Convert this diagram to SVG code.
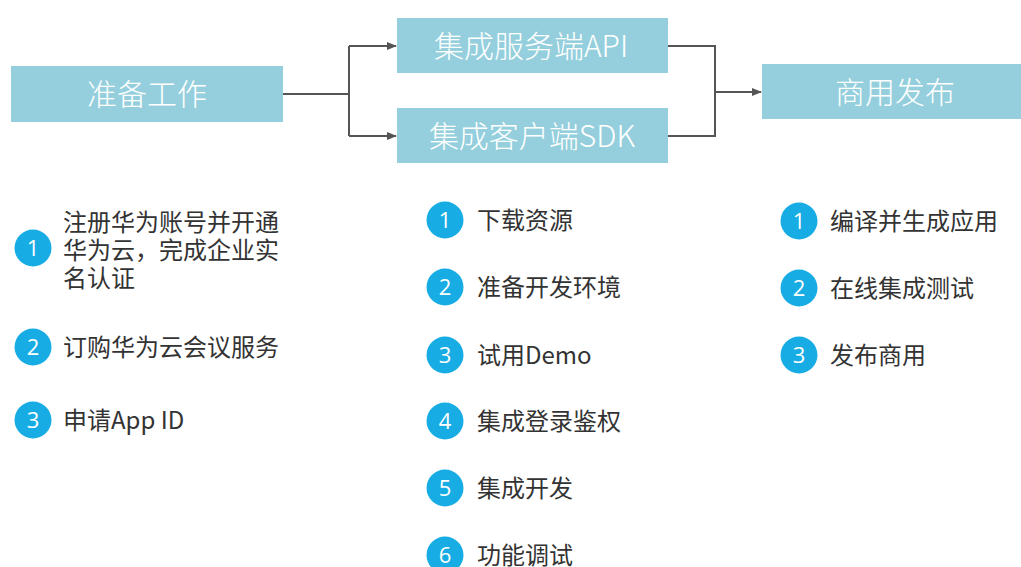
<svg xmlns="http://www.w3.org/2000/svg" width="1021" height="567" viewBox="0 0 1021 567">
<style>
.box{fill:#95cfdd}
.bt{font-family:"Noto Sans CJK SC","Liberation Sans",sans-serif;font-size:30px;fill:#fff;font-weight:300;text-anchor:middle}
.c{fill:#17ace3}
.n{font-family:"Open Sans","Liberation Sans",sans-serif;font-size:22px;fill:#fff;text-anchor:middle}
.t{font-family:"Noto Sans CJK SC","Liberation Sans",sans-serif;font-size:24px;fill:#333}
.ln{fill:none;stroke:#555;stroke-width:2}
</style>
<defs>
<marker id="ah" markerWidth="10" markerHeight="10" refX="9" refY="5" orient="auto" markerUnits="userSpaceOnUse">
<path d="M0,1 L10,5 L0,9 Z" fill="#555"/>
</marker>
</defs>
<rect width="1021" height="567" fill="#fff"/>
<g id="connectors">
<path class="ln" d="M283,94 H349"/>
<path class="ln" d="M349,46 V136"/>
<path class="ln" d="M349,46 H396" marker-end="url(#ah)"/>
<path class="ln" d="M349,136 H396" marker-end="url(#ah)"/>
<path class="ln" d="M668,46 H715 V136 H668"/>
<path class="ln" d="M715,92 H761" marker-end="url(#ah)"/>
</g>
<g id="node-prepare">
<rect class="box" x="11" y="66" width="272" height="56"/>
<text class="bt" x="147" y="105">准备工作</text>
</g>
<g id="node-api">
<rect class="box" x="397" y="18" width="271" height="55"/>
<text class="bt" x="531" y="56.5">集成服务端API</text>
</g>
<g id="node-sdk">
<rect class="box" x="397" y="108" width="271" height="55"/>
<text class="bt" x="532" y="146.5">集成客户端SDK</text>
</g>
<g id="node-release">
<rect class="box" x="762" y="64" width="259" height="55"/>
<text class="bt" x="895" y="102.5">商用发布</text>
</g>
<g id="list-prepare">
<circle class="c" cx="33" cy="248" r="18.5"/><text class="n" x="33" y="256">1</text>
<text class="t" x="63" y="230.5">注册华为账号并开通</text>
<text class="t" x="63" y="258.5">华为云，完成企业实</text>
<text class="t" x="63" y="286.5">名认证</text>
<circle class="c" cx="33" cy="347" r="18.5"/><text class="n" x="33" y="355">2</text>
<text class="t" x="63" y="355.5">订购华为云会议服务</text>
<circle class="c" cx="33" cy="420" r="18.5"/><text class="n" x="33" y="428">3</text>
<text class="t" x="63" y="428.5">申请App ID</text>
</g>
<g id="list-integrate">
<circle class="c" cx="445" cy="220" r="18.5"/><text class="n" x="445" y="228">1</text>
<text class="t" x="477" y="228.5">下载资源</text>
<circle class="c" cx="445" cy="287" r="18.5"/><text class="n" x="445" y="295">2</text>
<text class="t" x="477" y="295.5">准备开发环境</text>
<circle class="c" cx="445" cy="355" r="18.5"/><text class="n" x="445" y="363">3</text>
<text class="t" x="477" y="363.5">试用Demo</text>
<circle class="c" cx="445" cy="421" r="18.5"/><text class="n" x="445" y="429">4</text>
<text class="t" x="477" y="429.5">集成登录鉴权</text>
<circle class="c" cx="445" cy="488" r="18.5"/><text class="n" x="445" y="496">5</text>
<text class="t" x="477" y="496.5">集成开发</text>
<circle class="c" cx="445" cy="555" r="18.5"/><text class="n" x="445" y="563">6</text>
<text class="t" x="477" y="563.5">功能调试</text>
</g>
<g id="list-release">
<circle class="c" cx="799" cy="221" r="18.5"/><text class="n" x="799" y="229">1</text>
<text class="t" x="830" y="229.5">编译并生成应用</text>
<circle class="c" cx="799" cy="288" r="18.5"/><text class="n" x="799" y="296">2</text>
<text class="t" x="830" y="296.5">在线集成测试</text>
<circle class="c" cx="799" cy="355" r="18.5"/><text class="n" x="799" y="363">3</text>
<text class="t" x="830" y="363.5">发布商用</text>
</g>
</svg>
